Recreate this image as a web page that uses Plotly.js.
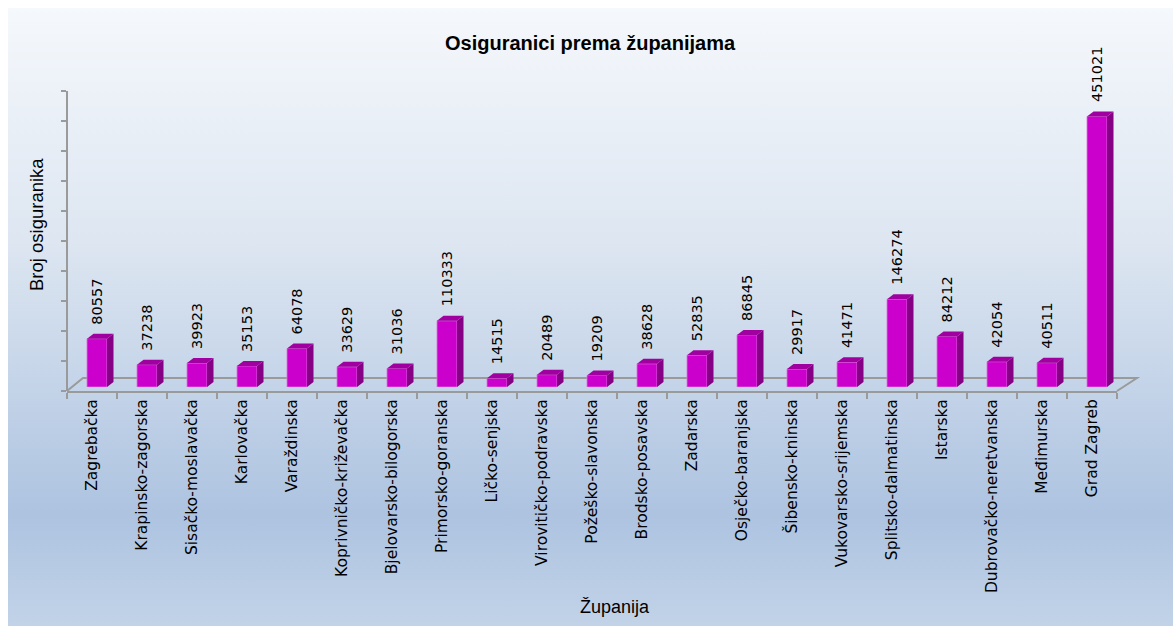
<!DOCTYPE html>
<html>
<head>
<meta charset="utf-8">
<script src="https://cdn.plot.ly/plotly-3.0.1.min.js"></script>
<style>
  html, body { margin: 0; padding: 0; background: #fff; }
  #bg {
    position: absolute; left: 8px; top: 8px; width: 1165px; height: 618px;
    background: linear-gradient(to bottom, #f5f8fc 0%, #dde6f1 38%, #c3d3e8 62%, #adc3e0 82%, #c2d3e8 100%);
  }
  #chart { position: absolute; left: 0; top: 0; width: 1173px; height: 626px; }
</style>
</head>
<body>
<div id="bg"></div>
<div id="chart"></div>
<script>
'use strict';

const regions = [
  'Zagrebačka', 'Krapinsko-zagorska', 'Sisačko-moslavačka', 'Karlovačka',
  'Varaždinska', 'Koprivničko-križevačka', 'Bjelovarsko-bilogorska',
  'Primorsko-goranska', 'Ličko-senjska', 'Virovitičko-podravska',
  'Požeško-slavonska', 'Brodsko-posavska', 'Zadarska', 'Osječko-baranjska',
  'Šibensko-kninska', 'Vukovarsko-srijemska', 'Splitsko-dalmatinska',
  'Istarska', 'Dubrovačko-neretvanska', 'Međimurska', 'Grad Zagreb'
];

const insured = [
  80557, 37238, 39923, 35153, 64078, 33629, 31036, 110333, 14515, 20489,
  19209, 38628, 52835, 86845, 29917, 41471, 146274, 84212, 42054, 40511,
  451021
];

// 3d look: side and top faces of each bar
const depthX = 0.13;
const depthY = 8300;
const barLeft = -0.1;
const barRight = 0.3;

const faces = [];
insured.forEach((v, i) => {
  const r = i + barRight;
  const l = i + barLeft;
  faces.push({
    type: 'path', xref: 'x', yref: 'y', line: { width: 0 },
    fillcolor: '#850085',
    path: `M ${r},0 L ${r},${v} L ${r + depthX},${v + depthY} L ${r + depthX},${depthY} Z`
  });
  faces.push({
    type: 'path', xref: 'x', yref: 'y', line: { width: 0 },
    fillcolor: '#a000a0',
    path: `M ${l},${v} L ${r},${v} L ${r + depthX},${v + depthY} L ${l + depthX},${v + depthY} Z`
  });
});

// floor outline
faces.push({
  type: 'path', xref: 'paper', yref: 'paper', layer: 'below',
  line: { color: '#9a9a9a', width: 2 },
  path: 'M 0,0 L 0.0152,0.0428 L 1.019,0.0428 L 1,0'
});

const labels = insured.map((v, i) => ({
  x: regions[i], y: v, xref: 'x', yref: 'y',
  text: String(v), showarrow: false, textangle: -90,
  xanchor: 'center', yanchor: 'bottom', xshift: 5, yshift: 12,
  font: { family: 'DejaVu Sans', size: 14.5, color: '#000' }
}));

const titleFont = { family: 'Liberation Sans, Arial, sans-serif', color: '#000' };

labels.push(
  {
    xref: 'paper', yref: 'paper', x: 0.4986, y: 1.1447,
    xanchor: 'center', yanchor: 'middle',
    text: '<b>Osiguranici prema županijama</b>', showarrow: false,
    font: Object.assign({ size: 20 }, titleFont)
  },
  {
    xref: 'paper', yref: 'paper', x: -0.0295, y: 0.546, textangle: -90,
    xanchor: 'center', yanchor: 'middle',
    text: 'Broj osiguranika', showarrow: false,
    font: Object.assign({ size: 18.5 }, titleFont)
  },
  {
    xref: 'paper', yref: 'paper', x: 0.522, y: -0.7105,
    xanchor: 'center', yanchor: 'middle',
    text: 'Županija', showarrow: false,
    font: Object.assign({ size: 18 }, titleFont)
  }
);

const traces = [
  {
    type: 'bar',
    x: regions,
    y: insured,
    width: 0.4,
    offset: barLeft,
    marker: { color: '#cc00cc', line: { color: '#e070e0', width: 0.8 } },
    hoverinfo: 'x+y'
  },
  // empty trace so the tick axis (y2) gets drawn
  { type: 'scatter', x: [], y: [], xaxis: 'x', yaxis: 'y2', hoverinfo: 'skip' }
];

const layout = {
  width: 1173, height: 626,
  paper_bgcolor: 'rgba(0,0,0,0)',
  plot_bgcolor: 'rgba(0,0,0,0)',
  margin: { l: 67, r: 56, t: 87, b: 235 },
  showlegend: false,
  xaxis: {
    type: 'category', anchor: 'y2', range: [-0.5, 20.5],
    showline: true, linecolor: '#9a9a9a', linewidth: 2,
    ticks: 'outside', tickson: 'boundaries', ticklen: 6,
    tickcolor: '#9a9a9a', tickwidth: 1.5, tickangle: -90,
    tickfont: { family: 'DejaVu Sans', size: 15.5, color: '#000' },
    showgrid: false, zeroline: false
  },
  yaxis: {
    domain: [4 / 304, 1], range: [0, 500000], visible: false
  },
  yaxis2: {
    domain: [0, 300 / 304], range: [0, 500000], anchor: 'free', position: 0,
    showline: true, linecolor: '#9a9a9a', linewidth: 2,
    ticks: 'outside', ticklen: 5, tickcolor: '#9a9a9a', tickwidth: 1.5,
    dtick: 50000, showticklabels: false, showgrid: false, zeroline: false
  },
  shapes: faces,
  annotations: labels
};

Plotly.newPlot('chart', traces, layout, { displayModeBar: false });
</script>
</body>
</html>
